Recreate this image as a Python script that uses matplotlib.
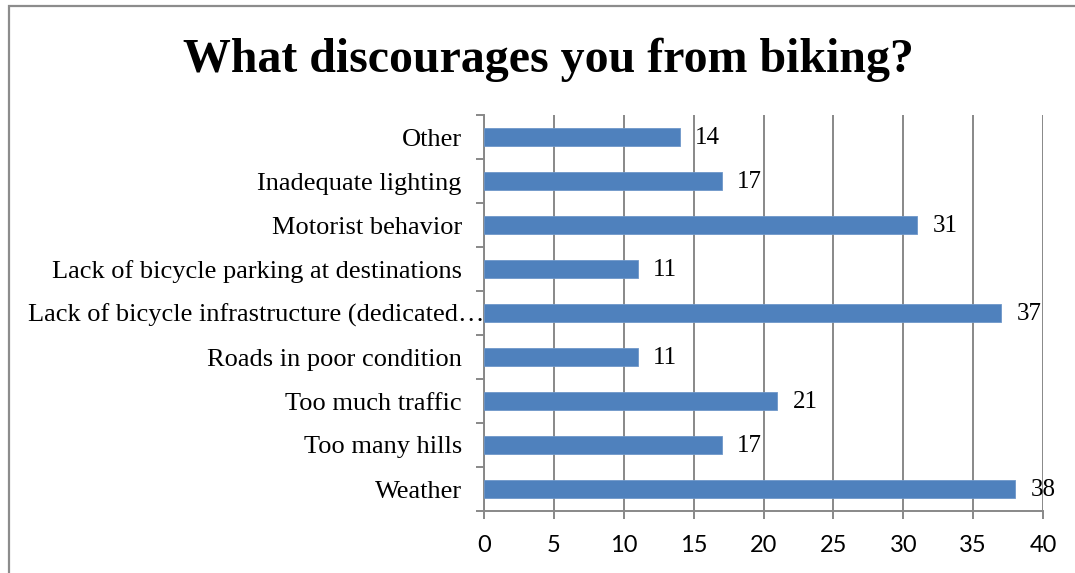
import matplotlib
matplotlib.use("Agg")
import matplotlib.pyplot as plt
from matplotlib.patches import Rectangle
from matplotlib.ticker import FixedLocator, NullFormatter
from matplotlib.transforms import ScaledTranslation

categories = [
    "Weather",
    "Too many hills",
    "Too much traffic",
    "Roads in poor condition",
    "Lack of bicycle infrastructure (dedicated\u2026",
    "Lack of bicycle parking at destinations",
    "Motorist behavior",
    "Inadequate lighting",
    "Other",
]
counts = [38, 17, 21, 11, 37, 11, 31, 17, 14]
x_ticks = [0, 5, 10, 15, 20, 25, 30, 35, 40]

W, H = 1075, 573
fig = plt.figure(figsize=(W / 100, H / 100), dpi=100)

# outer chart frame
fig.patches.append(Rectangle((9 / W, -0.05), 1.2, 1 - 6 / H + 0.05,
                             transform=fig.transFigure, fill=False,
                             edgecolor="#8c8c8c", linewidth=1.6, clip_on=False))

ax = fig.add_axes([484 / W, 1 - 511 / H, (1043 - 484) / W, (511 - 115) / H])

serif = ["Liberation Serif", "DejaVu Serif"]
grid_c = "#888888"

ypos = list(range(len(categories)))
ax.barh(ypos, counts, height=0.4, color="#4f81bd", edgecolor="#6e97c9",
        linewidth=0.6, zorder=3)

ax.set_xlim(0, 40)
ax.set_ylim(-0.5, len(categories) - 0.5)
ax.xaxis.set_major_locator(FixedLocator(x_ticks))
ax.set_xticklabels([str(v) for v in x_ticks], fontfamily="Lato", fontsize=17)
ax.grid(axis="x", color=grid_c, linewidth=1.4, zorder=0)

ax.set_yticks(ypos)
ax.set_yticklabels(categories, fontfamily=serif, fontsize=19)
ax.yaxis.set_minor_locator(FixedLocator([i - 0.5 for i in range(len(categories) + 1)]))
ax.yaxis.set_minor_formatter(NullFormatter())
ax.tick_params(axis="y", which="major", length=0, pad=16)
ax.tick_params(axis="y", which="minor", length=6, width=1.4, color=grid_c)
ax.tick_params(axis="x", which="major", length=6, width=1.4, color=grid_c, pad=11)

# the truncated long label runs right up to the axis
for lbl in ax.get_yticklabels():
    if lbl.get_text().endswith("\u2026"):
        lbl.set_transform(lbl.get_transform() +
                          ScaledTranslation(0.23, 0, fig.dpi_scale_trans))

for side in ("top", "right"):
    ax.spines[side].set_visible(False)
for side in ("left", "bottom"):
    ax.spines[side].set_color(grid_c)
    ax.spines[side].set_linewidth(1.4)

for y, v in zip(ypos, counts):
    ax.annotate(str(v), xy=(v, y), xytext=(11, -1), textcoords="offset points",
                ha="left", va="center", fontfamily=serif, fontsize=18, zorder=4)

fig.text(548 / W, 1 - 60 / H, "What discourages you from biking?",
         ha="center", va="center", fontfamily=serif, fontweight="bold", fontsize=34.5)

fig.savefig("out.png", dpi=100, facecolor="white")
